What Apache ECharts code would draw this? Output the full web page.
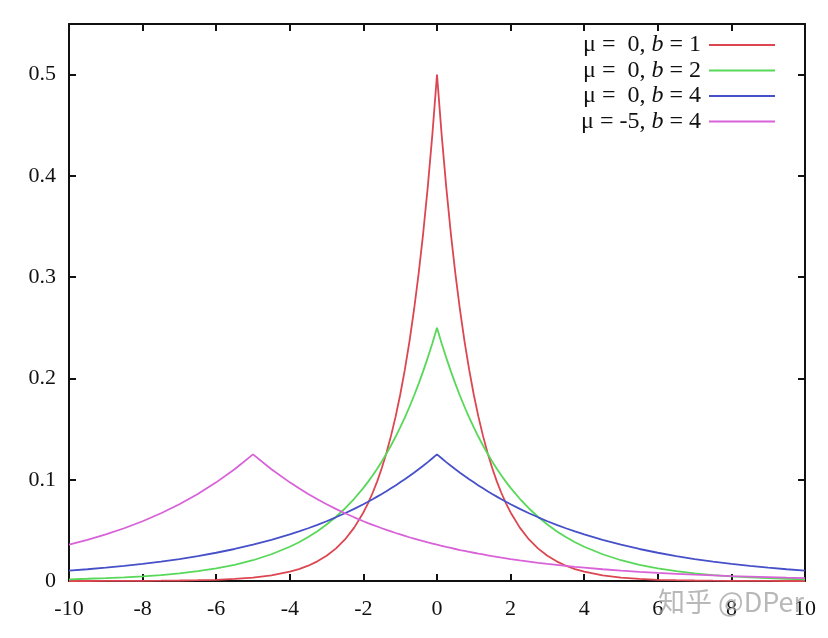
<!DOCTYPE html>
<html>
<head>
<meta charset="utf-8">
<script src="https://cdn.jsdelivr.net/npm/echarts@6/dist/echarts.min.js"></script>
<style>
html, body { margin: 0; padding: 0; background: #fff; }
#chart { width: 828px; height: 638px; }
</style>
</head>
<body>
<div id="chart"></div>
<script>
// x positions of the sampled points (finer near the peak at 0)
const xs = [-10, -9.5, -9, -8.5, -8, -7.5, -7, -6.5, -6, -5.5, -5, -4.5, -4, -3.75, -3.5, -3.25, -3, -2.75, -2.5, -2.25,
  -2, -1.875, -1.75, -1.625, -1.5, -1.375, -1.25, -1.125, -1, -0.875, -0.75, -0.625, -0.5, -0.375, -0.25, -0.125,
  0, 0.125, 0.25, 0.375, 0.5, 0.625, 0.75, 0.875, 1, 1.125, 1.25, 1.375, 1.5, 1.625, 1.75, 1.875,
  2, 2.25, 2.5, 2.75, 3, 3.25, 3.5, 3.75, 4, 4.5, 5, 5.5, 6, 6.5, 7, 7.5, 8, 8.5, 9, 9.5, 10]

// mu = 0, b = 1
const red = [0.0000, 0.0000, 0.0001, 0.0001, 0.0002, 0.0003, 0.0005, 0.0008, 0.0012, 0.0020, 0.0034, 0.0056, 0.0092,
  0.0118, 0.0151, 0.0194, 0.0249, 0.0320, 0.0410, 0.0527, 0.0677, 0.0767, 0.0869, 0.0984, 0.1116, 0.1264, 0.1433,
  0.1623, 0.1839, 0.2084, 0.2362, 0.2676, 0.3033, 0.3436, 0.3894, 0.4412,
  0.5,
  0.4412, 0.3894, 0.3436, 0.3033, 0.2676, 0.2362, 0.2084, 0.1839, 0.1623, 0.1433, 0.1264, 0.1116, 0.0984, 0.0869,
  0.0767, 0.0677, 0.0527, 0.0410, 0.0320, 0.0249, 0.0194, 0.0151, 0.0118, 0.0092, 0.0056, 0.0034, 0.0020, 0.0012,
  0.0008, 0.0005, 0.0003, 0.0002, 0.0001, 0.0001, 0.0000, 0.0000]

// mu = 0, b = 2
const green = [0.0017, 0.0022, 0.0028, 0.0036, 0.0046, 0.0059, 0.0075, 0.0097, 0.0124, 0.0160, 0.0205, 0.0264, 0.0338,
  0.0383, 0.0434, 0.0492, 0.0558, 0.0632, 0.0716, 0.0812, 0.0920, 0.0979, 0.1042, 0.1109, 0.1181, 0.1257, 0.1338,
  0.1424, 0.1516, 0.1614, 0.1718, 0.1829, 0.1947, 0.2072, 0.2206, 0.2348,
  0.25,
  0.2348, 0.2206, 0.2072, 0.1947, 0.1829, 0.1718, 0.1614, 0.1516, 0.1424, 0.1338, 0.1257, 0.1181, 0.1109, 0.1042,
  0.0979, 0.0920, 0.0812, 0.0716, 0.0632, 0.0558, 0.0492, 0.0434, 0.0383, 0.0338, 0.0264, 0.0205, 0.0160, 0.0124,
  0.0097, 0.0075, 0.0059, 0.0046, 0.0036, 0.0028, 0.0022, 0.0017]

// mu = 0, b = 4
const blue = [0.0103, 0.0116, 0.0132, 0.0149, 0.0169, 0.0192, 0.0217, 0.0246, 0.0279, 0.0316, 0.0358, 0.0406, 0.0460,
  0.0490, 0.0521, 0.0555, 0.0590, 0.0629, 0.0669, 0.0712, 0.0758, 0.0782, 0.0807, 0.0833, 0.0859, 0.0886, 0.0915,
  0.0944, 0.0974, 0.1004, 0.1036, 0.1069, 0.1103, 0.1138, 0.1174, 0.1212,
  0.125,
  0.1212, 0.1174, 0.1138, 0.1103, 0.1069, 0.1036, 0.1004, 0.0974, 0.0944, 0.0915, 0.0886, 0.0859, 0.0833, 0.0807,
  0.0782, 0.0758, 0.0712, 0.0669, 0.0629, 0.0590, 0.0555, 0.0521, 0.0490, 0.0460, 0.0406, 0.0358, 0.0316, 0.0279,
  0.0246, 0.0217, 0.0192, 0.0169, 0.0149, 0.0132, 0.0116, 0.0103]

// mu = -5, b = 4
const magenta = [0.0358, 0.0406, 0.0460, 0.0521, 0.0590, 0.0669, 0.0758, 0.0859, 0.0974, 0.1103, 0.125, 0.1103, 0.0974,
  0.0915, 0.0859, 0.0807, 0.0758, 0.0712, 0.0669, 0.0629, 0.0590, 0.0572, 0.0555, 0.0538, 0.0521, 0.0505, 0.0490,
  0.0474, 0.0460, 0.0446, 0.0432, 0.0419, 0.0406, 0.0393, 0.0381, 0.0370,
  0.0358,
  0.0347, 0.0336, 0.0326, 0.0316, 0.0306, 0.0297, 0.0288, 0.0279, 0.0270, 0.0262, 0.0254, 0.0246, 0.0239, 0.0231,
  0.0224, 0.0217, 0.0204, 0.0192, 0.0180, 0.0169, 0.0159, 0.0149, 0.0140, 0.0132, 0.0116, 0.0103, 0.0091, 0.0080,
  0.0071, 0.0062, 0.0055, 0.0048, 0.0043, 0.0038, 0.0033, 0.0029]

const names = ['μ =  0, {i|b} = 1', 'μ =  0, {i|b} = 2', 'μ =  0, {i|b} = 4', 'μ = -5, {i|b} = 4']
const colors = ['#dc4650', '#58d858', '#4650c8', '#d862d8']

const chart = echarts.init(document.getElementById('chart'))
const font = 'Liberation Serif'

function makeLine (name, ys, color) {
  return {
    name: name,
    type: 'line',
    symbol: 'none',
    data: xs.map((x, i) => [x, ys[i]]),
    lineStyle: { color: color, width: 1.8 },
    itemStyle: { color: color }
  }
}

const axisLine = { show: true, onZero: false, lineStyle: { color: '#111', width: 2 } }
const axisTick = { show: true, inside: true, length: 7, lineStyle: { color: '#111', width: 2 } }

const option = {
  animation: false,
  backgroundColor: '#fff',
  grid: { left: 69, right: 23, top: 24, bottom: 57 },
  legend: {
    orient: 'vertical',
    right: 53,
    top: 33,
    padding: 0,
    align: 'right',
    icon: 'rect',
    itemWidth: 66,
    itemHeight: 2,
    itemGap: 1.5,
    data: names.map((n, i) => ({ name: n, itemStyle: { color: colors[i] } })),
    textStyle: {
      fontFamily: font,
      fontSize: 24,
      lineHeight: 24,
      color: '#111',
      padding: [0, 3, 0, 0],
      rich: { i: { fontFamily: font, fontStyle: 'italic', fontSize: 24, lineHeight: 24, color: '#111' } }
    }
  },
  xAxis: [{
    type: 'value',
    min: -10,
    max: 10,
    interval: 2,
    axisLine: axisLine,
    axisTick: axisTick,
    splitLine: { show: false },
    axisLabel: { fontFamily: font, fontSize: 22, color: '#111', margin: 17 }
  }, {
    type: 'value',
    position: 'top',
    min: -10,
    max: 10,
    interval: 2,
    axisLine: axisLine,
    axisTick: axisTick,
    splitLine: { show: false },
    axisLabel: { show: false }
  }],
  yAxis: [{
    type: 'value',
    min: 0,
    max: 0.55,
    interval: 0.1,
    axisLine: axisLine,
    axisTick: axisTick,
    splitLine: { show: false },
    axisLabel: {
      fontFamily: font,
      fontSize: 22,
      color: '#111',
      margin: 13,
      showMaxLabel: false,
      formatter: v => v === 0 ? '0' : v.toFixed(1)
    }
  }, {
    type: 'value',
    position: 'right',
    min: 0,
    max: 0.55,
    interval: 0.1,
    axisLine: axisLine,
    axisTick: axisTick,
    splitLine: { show: false },
    axisLabel: { show: false }
  }],
  graphic: [{
    type: 'text',
    right: 24,
    top: 588,
    z: 100,
    style: {
      text: '知乎 @DPer',
      font: '27px "Noto Sans CJK SC", "Noto Sans", sans-serif',
      fill: 'rgba(160,160,160,0.75)'
    }
  }],
  series: [
    makeLine(names[0], red, colors[0]),
    makeLine(names[1], green, colors[1]),
    makeLine(names[2], blue, colors[2]),
    makeLine(names[3], magenta, colors[3])
  ]
}

chart.setOption(option)
</script>
</body>
</html>
